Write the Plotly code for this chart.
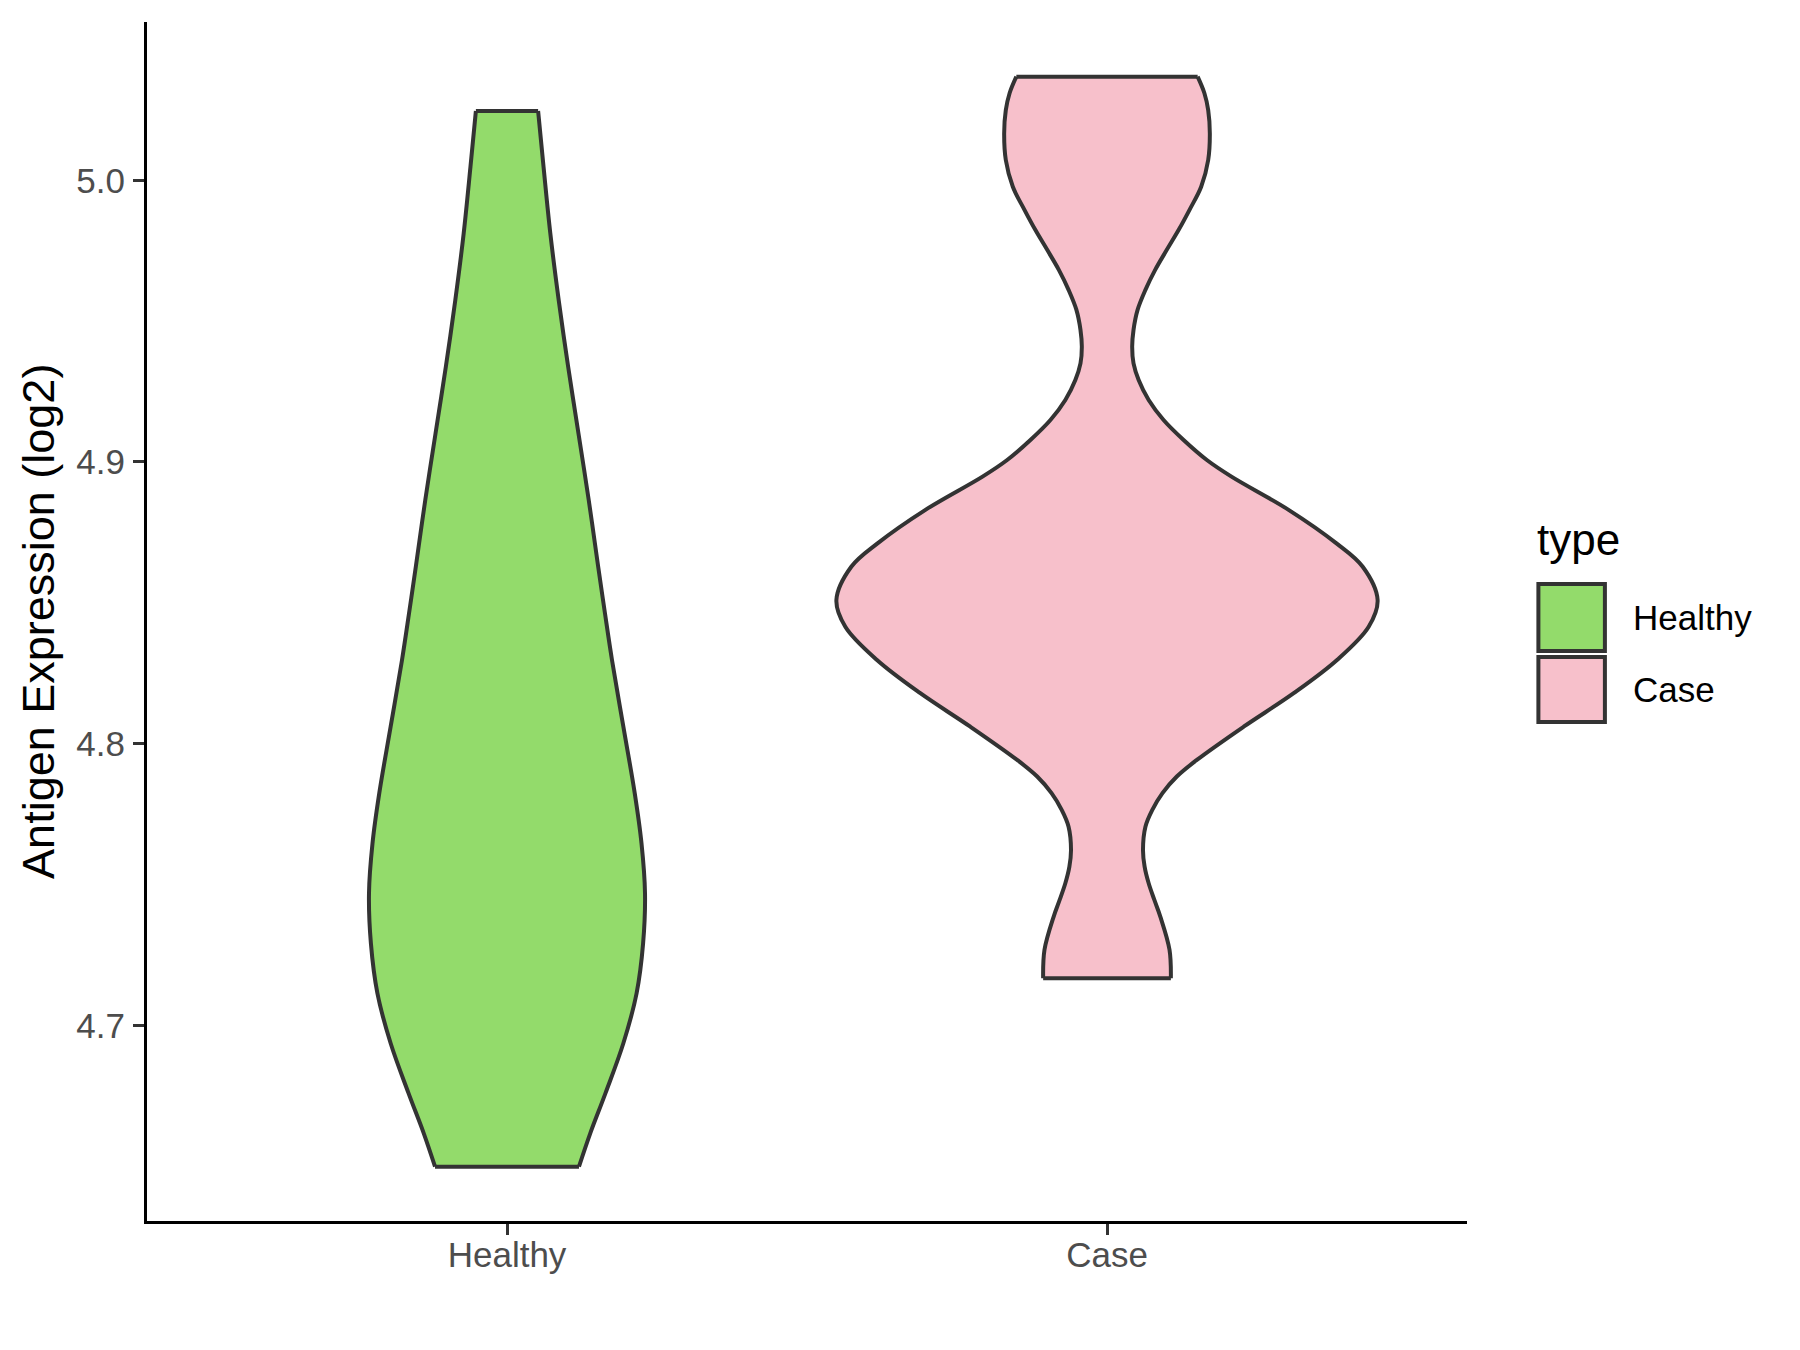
import plotly.graph_objects as go

# ---------------- data ----------------
categories = ["Healthy", "Case"]
fill_colors = ["#93DB6B", "#F7C0CB"]

# y = expression value, density = relative violin half-width (max = 1)
healthy_y = [5.0246, 5.0048, 4.9812, 4.9575, 4.9338, 4.9102, 4.8865, 4.8628,
             4.8463, 4.8297, 4.8060, 4.7824, 4.7646, 4.7469, 4.7291, 4.7114,
             4.6936, 4.6759, 4.6617, 4.6498]
healthy_density = [0.115, 0.135, 0.160, 0.191, 0.226, 0.264, 0.302, 0.337,
                   0.362, 0.388, 0.430, 0.472, 0.497, 0.510, 0.503, 0.479,
                   0.430, 0.364, 0.308, 0.266]

case_y = [5.0368, 5.0309, 5.0249, 5.0167, 5.0072, 4.9977, 4.9895, 4.9824,
          4.9753, 4.9682, 4.9611, 4.9540, 4.9469, 4.9409, 4.9350, 4.9291,
          4.9220, 4.9149, 4.9078, 4.9007, 4.8948, 4.8830, 4.8711, 4.8628,
          4.8510, 4.8415, 4.8297, 4.8179, 4.8060, 4.7942, 4.7883, 4.7824,
          4.7764, 4.7705, 4.7622, 4.7563, 4.7504, 4.7445, 4.7386, 4.7268,
          4.7167]
case_density = [0.335, 0.360, 0.374, 0.380, 0.374, 0.348, 0.305, 0.265,
                0.221, 0.178, 0.142, 0.113, 0.098, 0.093, 0.098, 0.117,
                0.154, 0.209, 0.283, 0.369, 0.460, 0.671, 0.848, 0.945,
                1.000, 0.967, 0.850, 0.690, 0.505, 0.332, 0.258, 0.205,
                0.167, 0.142, 0.133, 0.139, 0.154, 0.175, 0.197, 0.231,
                0.236]

y_tick_vals = [4.7, 4.8, 4.9, 5.0]
y_tick_text = ["4.7", "4.8", "4.9", "5.0"]
y_title = "Antigen Expression (log2)"
legend_title = "type"

# ---------------- styling ----------------
FONT = "Liberation Sans, Arial, Helvetica, sans-serif"
OUTLINE = "#333333"
HALF = 0.451         # max half-width of a violin (ggplot width 0.9)
LW = 4
W, H = 1800, 1350
PAGE_OFF = 8         # default body margin of the html page
# plot area in page pixels
PX0, PX1, PY0, PY1 = 146.6, 1466.6, 22.0, 1221.0
ML = PX0 - PAGE_OFF
MR = W - (PX1 - PAGE_OFF)
MT = PY0 - PAGE_OFF
MB = H - (PY1 - PAGE_OFF)

groups = [(healthy_y, healthy_density), (case_y, case_density)]

fig = go.Figure()
for i, (ys, dens) in enumerate(groups):
    pos = i + 1
    left = [pos - d * HALF for d in dens]
    right = [pos + d * HALF for d in dens]
    line_style = dict(color=OUTLINE, width=LW, shape="spline",
                      smoothing=1.0, simplify=False)
    fig.add_trace(go.Scatter(x=left, y=ys, mode="lines", line=line_style,
                             hoverinfo="skip", showlegend=False))
    fig.add_trace(go.Scatter(x=right, y=ys, mode="lines", fill="tonextx",
                             fillcolor=fill_colors[i], line=line_style,
                             name=categories[i], showlegend=False))
    # flat ends (trimmed at data range)
    fig.add_trace(go.Scatter(x=[left[0], right[0], None, left[-1], right[-1]],
                             y=[ys[0], ys[0], None, ys[-1], ys[-1]],
                             mode="lines", line=dict(color=OUTLINE, width=LW),
                             hoverinfo="skip", showlegend=False))

# ---------------- layout helpers (page pixel -> paper) ----------------
def px(x):
    return (x - PX0) / (PX1 - PX0)

def py(y):
    return (PY1 - y) / (PY1 - PY0)

shapes = []
annotations = []

# legend keys
key_rows = [(584, 651), (657, 722)]
for i, (t, b) in enumerate(key_rows):
    shapes.append(dict(type="rect", xref="paper", yref="paper",
                       x0=px(1538), x1=px(1604.5), y0=py(b), y1=py(t),
                       fillcolor=fill_colors[i],
                       line=dict(color=OUTLINE, width=LW)))
label_y = [617.8, 689.5]
for i, cat in enumerate(categories):
    annotations.append(dict(text=cat, xref="paper", yref="paper",
                            x=px(1631), y=py(label_y[i]), xanchor="left",
                            yanchor="middle", showarrow=False,
                            font=dict(family=FONT, size=35, color="#000000")))
annotations.append(dict(text=legend_title, xref="paper", yref="paper",
                        x=px(1535), y=py(539.7), xanchor="left", yanchor="middle",
                        showarrow=False,
                        font=dict(family=FONT, size=44, color="#000000")))
# y-axis title
annotations.append(dict(text=y_title, xref="paper", yref="paper",
                        x=px(38), y=0.5, xanchor="center", yanchor="middle",
                        textangle=-90, showarrow=False,
                        font=dict(family=FONT, size=45, color="#000000")))

fig.update_layout(
    width=W, height=H,
    margin=dict(l=ML, r=MR, t=MT, b=MB, pad=0),
    paper_bgcolor="white", plot_bgcolor="white",
    showlegend=False,
    font=dict(family=FONT),
    shapes=shapes, annotations=annotations,
    xaxis=dict(range=[0.4, 2.6], tickmode="array", tickvals=[1, 2],
               ticktext=categories, showgrid=False, zeroline=False,
               showline=True, linecolor="black", linewidth=3,
               ticks="outside", ticklen=11, tickwidth=3, tickcolor=OUTLINE,
               tickfont=dict(family=FONT, size=35, color="#4D4D4D"),
               ticklabelstandoff=-10),
    yaxis=dict(range=[4.6305, 5.0562], tickmode="array", tickvals=y_tick_vals,
               ticktext=y_tick_text, showgrid=False, zeroline=False,
               showline=True, linecolor="black", linewidth=3,
               ticks="outside", ticklen=11, tickwidth=3, tickcolor=OUTLINE,
               tickfont=dict(family=FONT, size=35, color="#4D4D4D"),
               ticklabelstandoff=1),
)

fig.write_html("out.html")
